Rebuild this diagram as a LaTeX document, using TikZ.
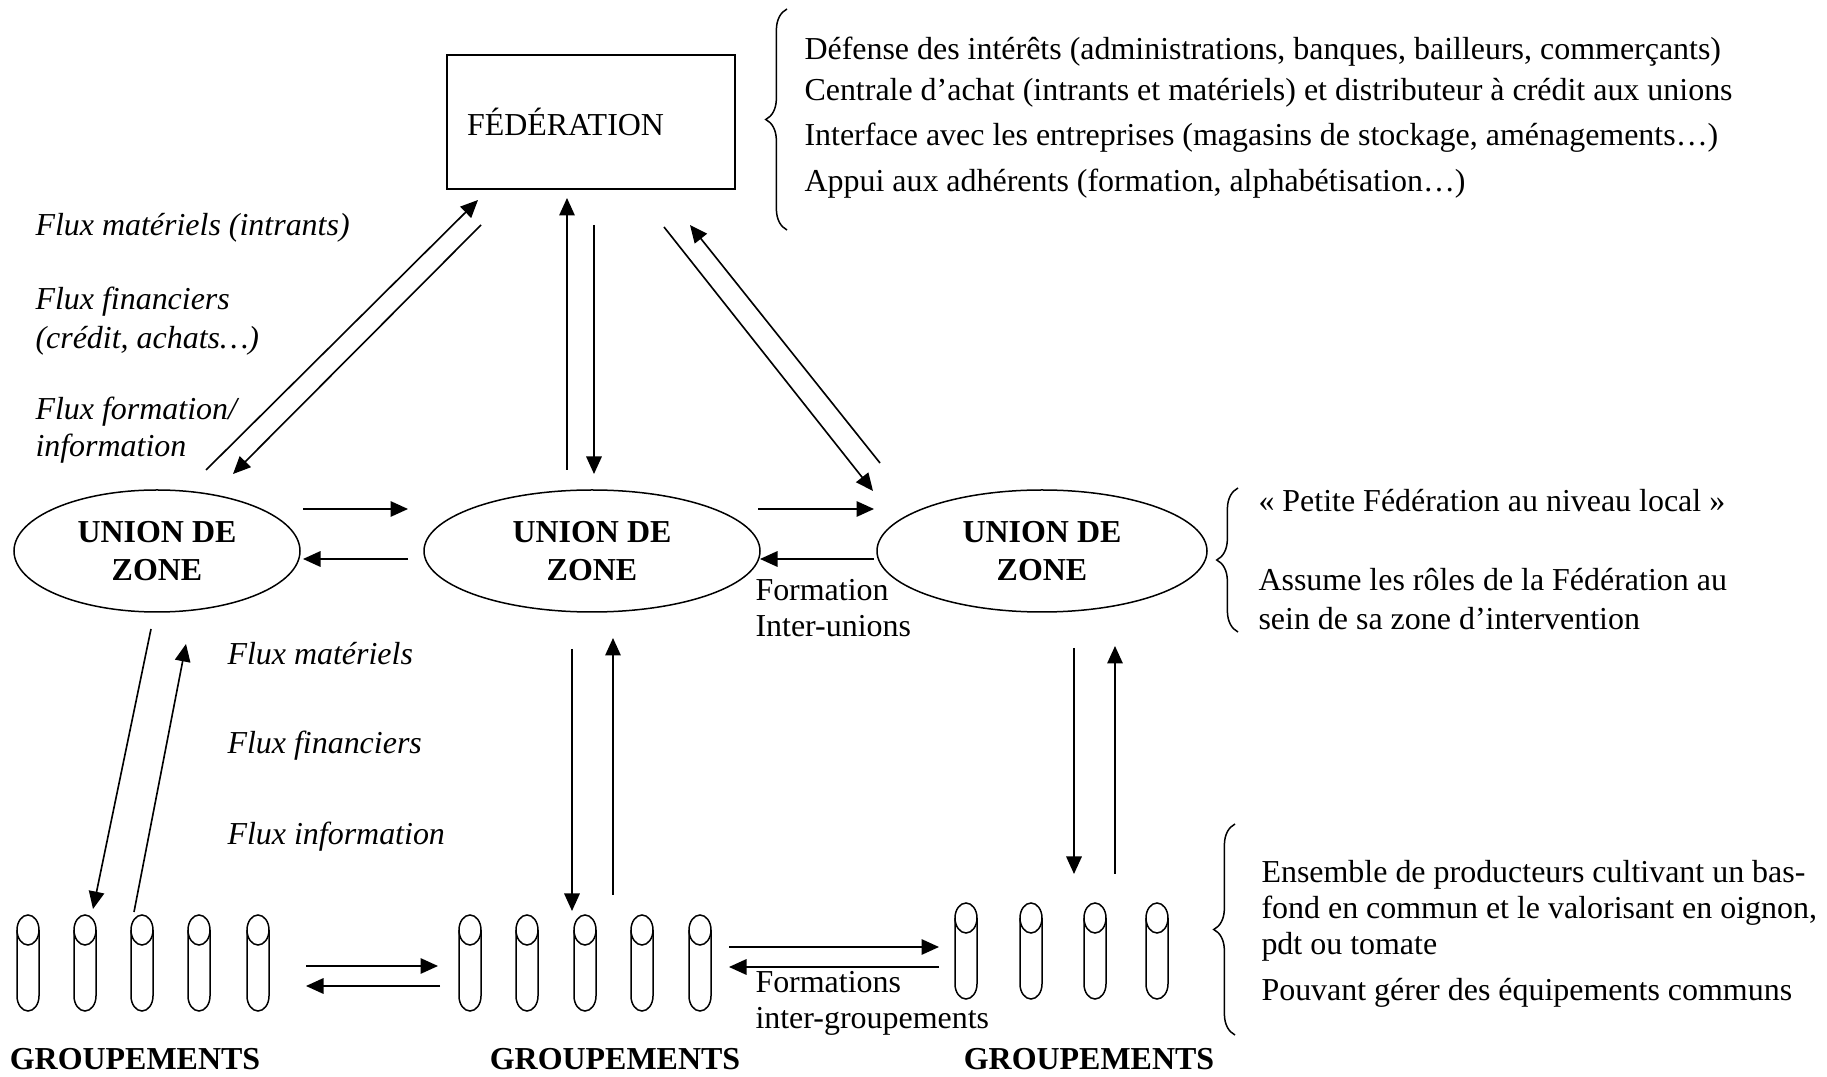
\documentclass[tikz,border=0pt]{standalone}
\usepackage{fontspec}
\setmainfont{Liberation Serif}
\usetikzlibrary{arrows.meta,shapes.geometric,decorations.pathreplacing}
\begin{document}
\begin{tikzpicture}[x=0.4pt,y=-0.4pt,
  every node/.style={font=\fontsize{12.78}{15}\selectfont, inner sep=0pt},
  lbl/.style={anchor=mid west, yshift=-2.1pt},
  ilbl/.style={anchor=mid west, yshift=-2.1pt, font=\fontsize{12.78}{15}\selectfont\itshape},
  grp/.style={anchor=base, text depth=0pt, font=\fontsize{12.78}{15}\selectfont\bfseries},
  union/.style={ellipse, draw, line width=0.6pt, inner sep=0pt, minimum height=48.8pt,
    align=center, font=\fontsize{12.78}{15}\selectfont\bfseries},
  fedbox/.style={draw, line width=0.6pt, minimum width=115.2pt, minimum height=53.6pt,
    text width=99.2pt, inner xsep=8pt, align=left},
  flow/.style={line width=0.65pt, -{Triangle[length=7pt,width=6.2pt]}},
  brc/.style={decorate, decoration={brace, amplitude=8.5pt}, line width=0.6pt},
  cyl/.pic={
    \draw[line width=0.6pt] (-11,15) arc[start angle=180,end angle=360,x radius=11,y radius=15]
      -- (11,81) arc[start angle=0,end angle=180,x radius=11,y radius=15] -- cycle;
    \draw[line width=0.6pt] (-11,15) arc[start angle=180,end angle=0,x radius=11,y radius=15];
  }
]
\fill[white] (0,0) rectangle (1827,1077);
\useasboundingbox (0,0) rectangle (1827,1077);

% main nodes
\node[fedbox] (fed) at (591,122) {FÉDÉRATION};
\node[union, minimum width=114.4pt] (u1) at (157,551) {UNION DE\\ZONE};
\node[union, minimum width=134.4pt] (u2) at (592,551) {UNION DE\\ZONE};
\node[union, minimum width=132pt] (u3) at (1042,551) {UNION DE\\ZONE};

% federation description
\draw[brc] (787,230) -- (787,9);
\node[lbl] (t1) at (804,49) {Défense des intérêts (administrations, banques, bailleurs, commerçants)};
\node[lbl] (t2) at (804,90) {Centrale d’achat (intrants et matériels) et distributeur à crédit aux unions};
\node[lbl] (t3) at (804,135) {Interface avec les entreprises (magasins de stockage, aménagements…)};
\node[lbl] (t4) at (804,181) {Appui aux adhérents (formation, alphabétisation…)};

% left flux labels
\node[ilbl] (f1) at (35,225) {Flux matériels (intrants)};
\node[ilbl] (f2) at (35,299) {Flux financiers};
\node[ilbl] (f3) at (35,338) {(crédit, achats…)};
\node[ilbl] (f4) at (35,409) {Flux formation/};
\node[ilbl] (f5) at (35,446) {information};

% federation <-> unions arrows
\coordinate (a1) at (206,470); \coordinate (a2) at (478,200);
\coordinate (b1) at (481,225); \coordinate (b2) at (233,474);
\coordinate (c1) at (567,470); \coordinate (c2) at (567,198);
\coordinate (d1) at (594,225); \coordinate (d2) at (594,474);
\coordinate (e1) at (664,227); \coordinate (e2) at (873,491);
\coordinate (g1) at (880,463); \coordinate (g2) at (690,225);
\draw[flow] (a1) -- (a2);
\draw[flow] (b1) -- (b2);
\draw[flow] (c1) -- (c2);
\draw[flow] (d1) -- (d2);
\draw[flow] (e1) -- (e2);
\draw[flow] (g1) -- (g2);

% inter-union arrows
\coordinate (h1) at (303,509); \coordinate (h2) at (408,509);
\coordinate (h3) at (408,559); \coordinate (h4) at (303,559);
\coordinate (h5) at (758,509); \coordinate (h6) at (874,509);
\coordinate (h7) at (874,559); \coordinate (h8) at (760,559);
\draw[flow] (h1) -- (h2);
\draw[flow] (h3) -- (h4);
\draw[flow] (h5) -- (h6);
\draw[flow] (h7) -- (h8);
\node[lbl] (fi1) at (755,590) {Formation};
\node[lbl] (fi2) at (755,626) {Inter-unions};

% union description
\draw[brc] (1238,632) -- (1238,488);
\node[lbl] (p1) at (1258,501) {« Petite Fédération au niveau local »};
\node[lbl] (p2) at (1258,580) {Assume les rôles de la Fédération au};
\node[lbl] (p3) at (1258,619) {sein de sa zone d’intervention};

% middle flux labels
\node[ilbl] (m1) at (227,654) {Flux matériels};
\node[ilbl] (m2) at (227,743) {Flux financiers};
\node[ilbl] (m3) at (227,834) {Flux information};

% union <-> groupements arrows
\coordinate (k1) at (151,629); \coordinate (k2) at (93,909);
\coordinate (k3) at (134,912); \coordinate (k4) at (186,644);
\coordinate (k5) at (572,649); \coordinate (k6) at (572,911);
\coordinate (k7) at (613,895); \coordinate (k8) at (613,638);
\coordinate (k9) at (1074,648); \coordinate (k10) at (1074,874);
\coordinate (k11) at (1115,874); \coordinate (k12) at (1115,646);
\draw[flow] (k1) -- (k2);
\draw[flow] (k3) -- (k4);
\draw[flow] (k5) -- (k6);
\draw[flow] (k7) -- (k8);
\draw[flow] (k9) -- (k10);
\draw[flow] (k11) -- (k12);

% groupements (cylinders)
\foreach \cx/\nm in {28/l1,85/l2,142/l3,199/l4,258/l5}
  \pic (\nm) at (\cx,915) {cyl};
\foreach \cx/\nm in {470/m1c,527/m2c,585/m3c,642/m4c,700/m5c}
  \pic (\nm) at (\cx,915) {cyl};
\foreach \cx/\nm in {966/r1,1031/r2,1095/r3,1157/r4}
  \pic (\nm) at (\cx,903) {cyl};

% inter-groupement arrows
\coordinate (n1) at (306,966); \coordinate (n2) at (438,966);
\coordinate (n3) at (440,986); \coordinate (n4) at (306,986);
\coordinate (n5) at (729,947); \coordinate (n6) at (939,947);
\coordinate (n7) at (939,967); \coordinate (n8) at (729,967);
\draw[flow] (n1) -- (n2);
\draw[flow] (n3) -- (n4);
\draw[flow] (n5) -- (n6);
\draw[flow] (n7) -- (n8);
\node[lbl] (fg1) at (755,982) {Formations};
\node[lbl] (fg2) at (755,1018) {inter-groupements};

\node[grp] (g1lbl) at (135,1069) {GROUPEMENTS};
\node[grp] (g2lbl) at (615,1069) {GROUPEMENTS};
\node[grp] (g3lbl) at (1089,1069) {GROUPEMENTS};

% groupement description
\draw[brc] (1235,1035) -- (1235,824);
\node[lbl] (q1) at (1261,872) {Ensemble de producteurs cultivant un bas-};
\node[lbl] (q2) at (1261,908) {fond en commun et le valorisant en oignon,};
\node[lbl] (q3) at (1261,944) {pdt ou tomate};
\node[lbl] (q4) at (1261,990) {Pouvant gérer des équipements communs};
\end{tikzpicture}
\end{document}
